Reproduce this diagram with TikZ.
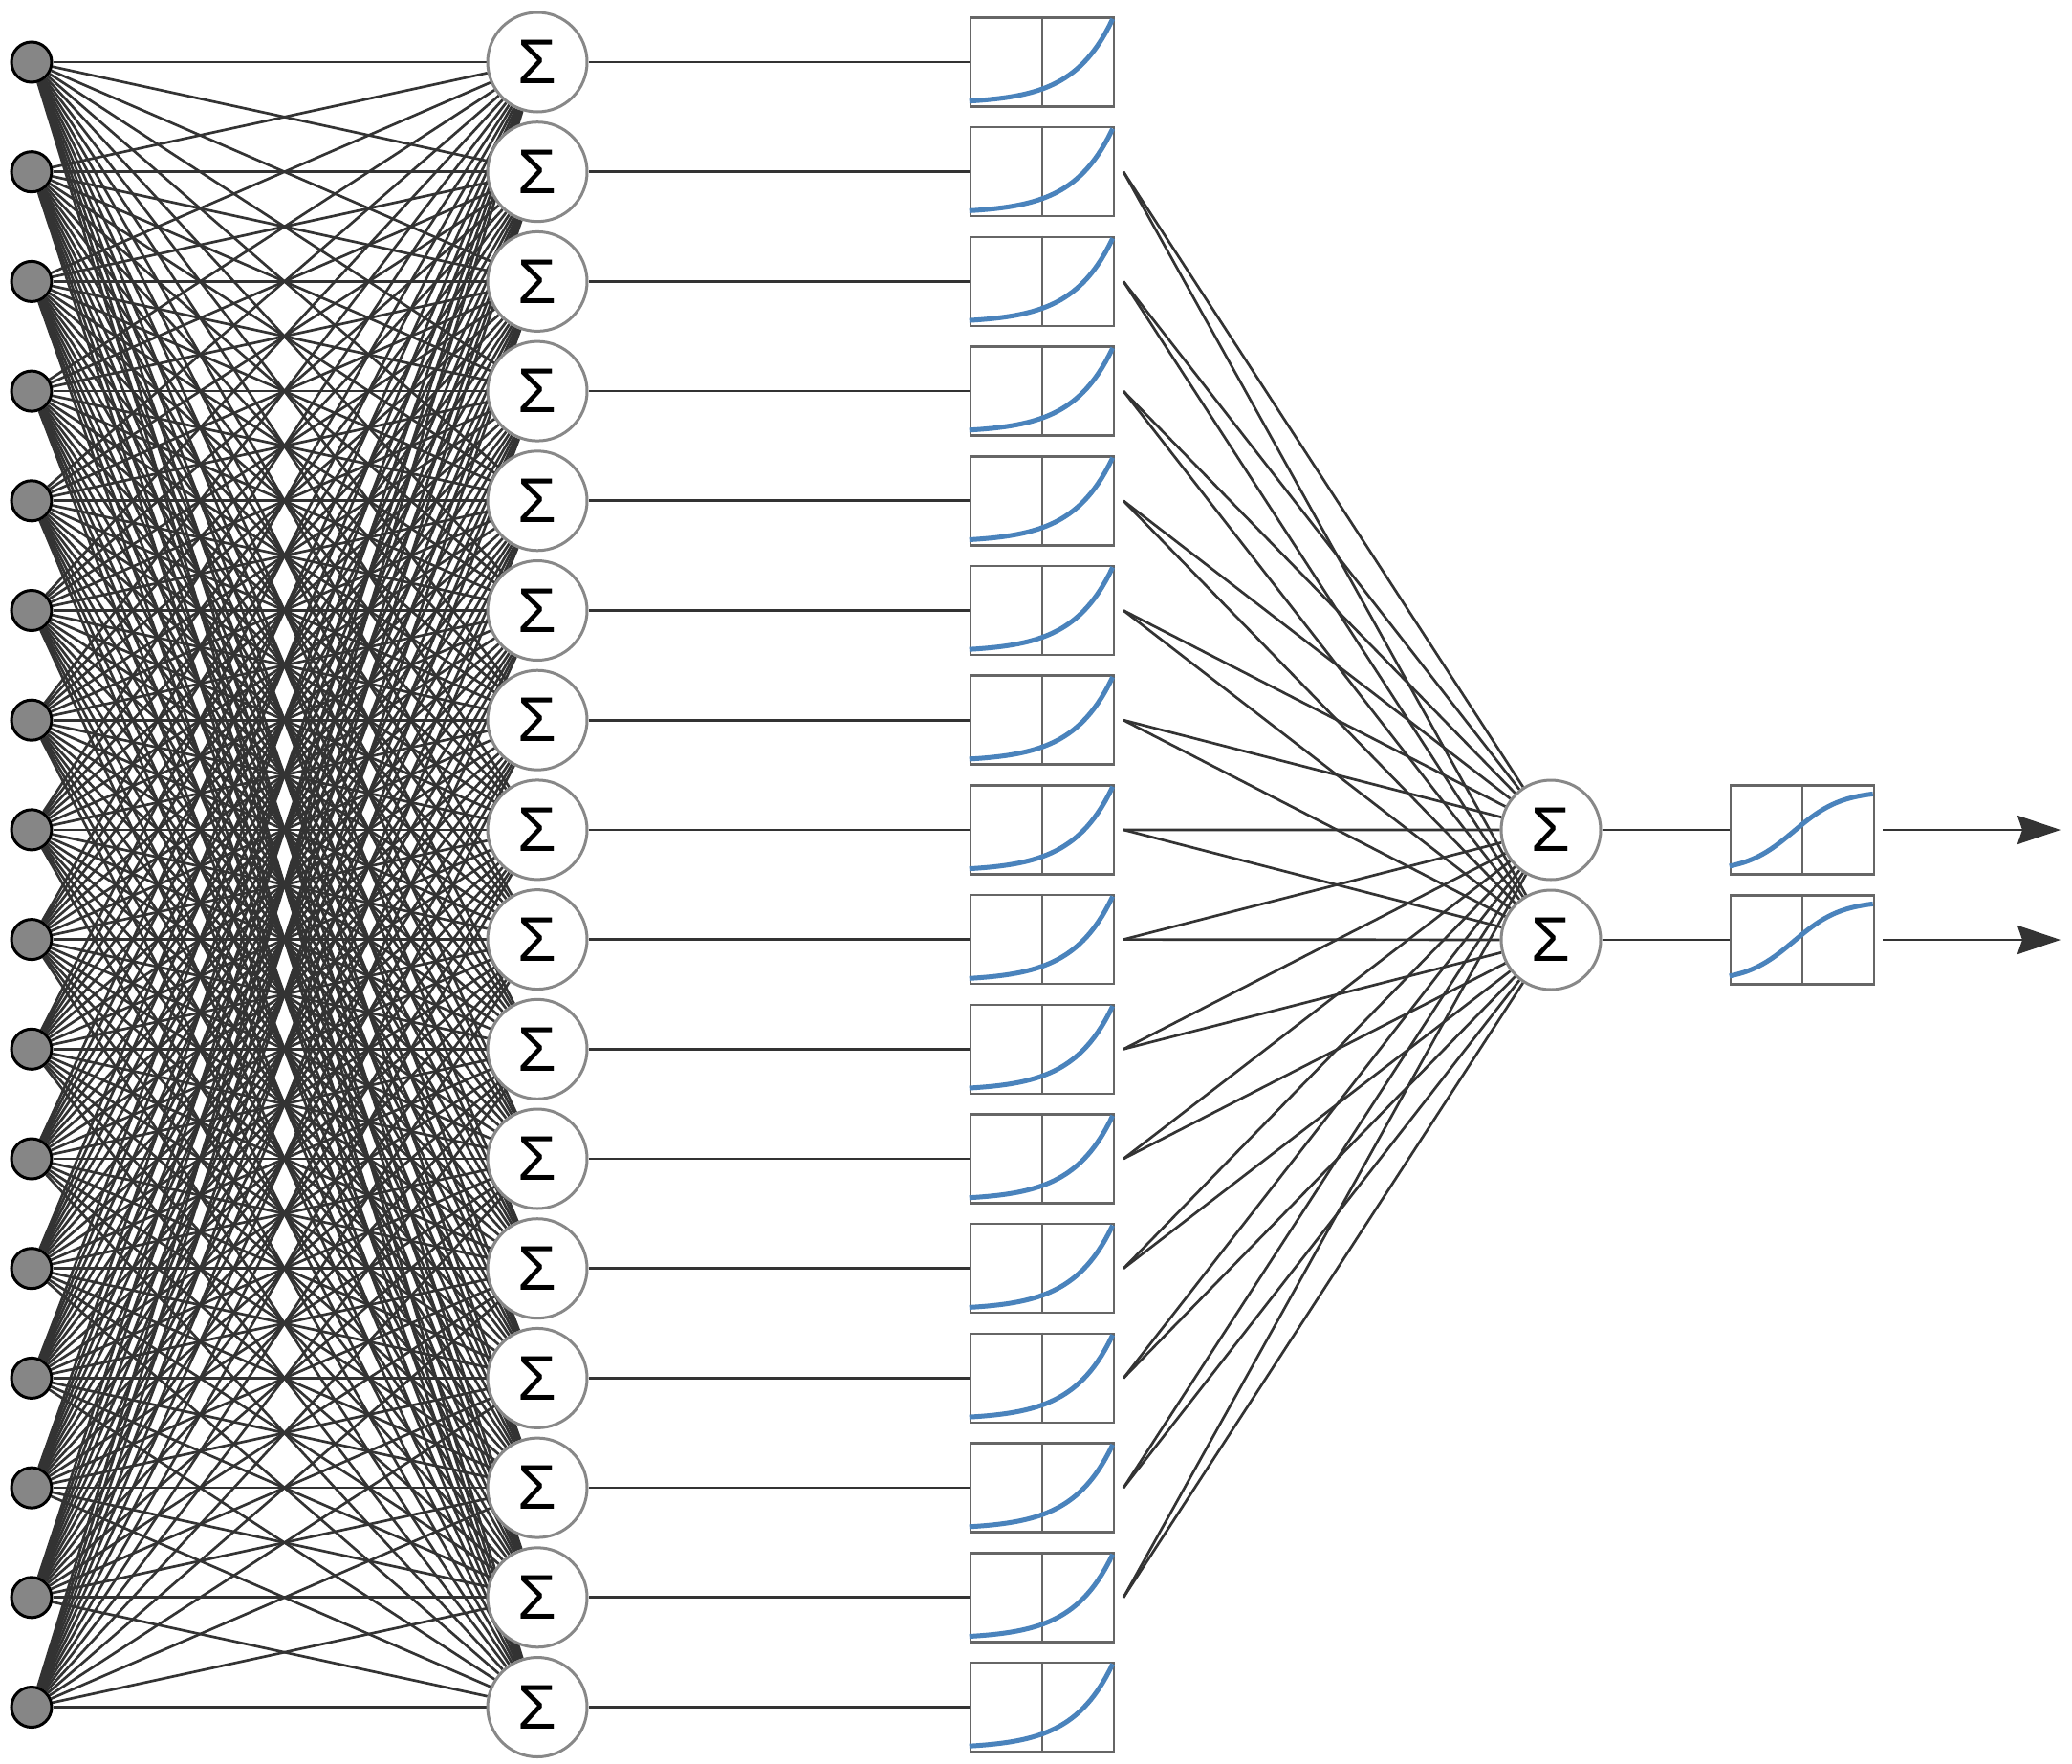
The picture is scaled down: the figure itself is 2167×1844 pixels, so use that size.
\documentclass[tikz,border=0pt]{standalone}
\usepackage{fontspec}
\setmainfont{Liberation Sans}
\usetikzlibrary{backgrounds,arrows.meta}
\definecolor{ln}{HTML}{333333}
\definecolor{cv}{HTML}{4A83BC}
\definecolor{bx}{HTML}{666666}
\definecolor{sg}{HTML}{888888}
\begin{document}
\begin{tikzpicture}[x=1pt,y=-1pt,
  inp/.style={circle,draw=black,fill=gray!95,line width=3pt,minimum size=42pt,inner sep=0pt},
  sig/.style={circle,draw=sg,fill=white,line width=3pt,minimum size=104pt,inner sep=0pt,font=\fontsize{66}{66}\selectfont},
  box/.style={rectangle,draw=bx,fill=white,line width=2.5pt,minimum width=150pt,minimum height=93pt,inner sep=0pt},
  con/.style={draw=ln,line width=2.7pt},
  crv/.style={draw=cv,line width=5pt}]
\useasboundingbox (0,0) rectangle (2167,1844);
\foreach \i in {0,...,15}{
  \node[inp] (i\i) at (33,{65+114.7*\i}) {};
  \node[sig] (h\i) at (562,{65+114.7*\i}) {Σ};
  \node[box] (b\i) at (1090,{65+114.7*\i}) {};
  \coordinate (o\i) at (1175,{65+114.7*\i});
  \draw[draw=bx,line width=1.2pt] (b\i.north) -- (b\i.south);
  \begin{scope}[shift={(b\i.south west)}]
    \draw[crv] plot[domain=0:1,samples=40] ({150*\x},{-93*(0.05+0.95*exp(3.6*(\x-1)))});
  \end{scope}
}
\node[sig] (s1) at (1622,868) {Σ};
\node[sig] (s2) at (1622,983) {Σ};
\node[box] (c1) at (1885,868) {};
\node[box] (c2) at (1885,983) {};
\foreach \c in {c1,c2}{
  \draw[draw=bx,line width=1.2pt] (\c.north) -- (\c.south);
  \begin{scope}[shift={(\c.south west)}]
    \draw[crv] plot[domain=0:1,samples=40] ({150*\x},{-93*(0.05+0.9/(1+exp(-6*(\x-0.45))))});
  \end{scope}
}
\coordinate (e1) at (2155,868);
\coordinate (e2) at (2155,983);
\begin{scope}[on background layer]
  \foreach \i in {0,...,15}{
    \foreach \j in {0,...,15}{ \draw[con] (i\i) -- (h\j); }
    \draw[con] (h\i) -- (b\i.west);
  }
  \foreach \i in {1,...,14}{
    \draw[con] (o\i) -- (s1);
    \draw[con] (o\i) -- (s2);
  }
\end{scope}
\draw[con] (s1) -- (c1.west);
\draw[con] (s2) -- (c2.west);
\draw[con,-{Stealth[length=45pt,width=30pt,inset=5pt]}] ([xshift=8pt]c1.east) -- (e1);
\draw[con,-{Stealth[length=45pt,width=30pt,inset=5pt]}] ([xshift=8pt]c2.east) -- (e2);
\end{tikzpicture}
\end{document}
